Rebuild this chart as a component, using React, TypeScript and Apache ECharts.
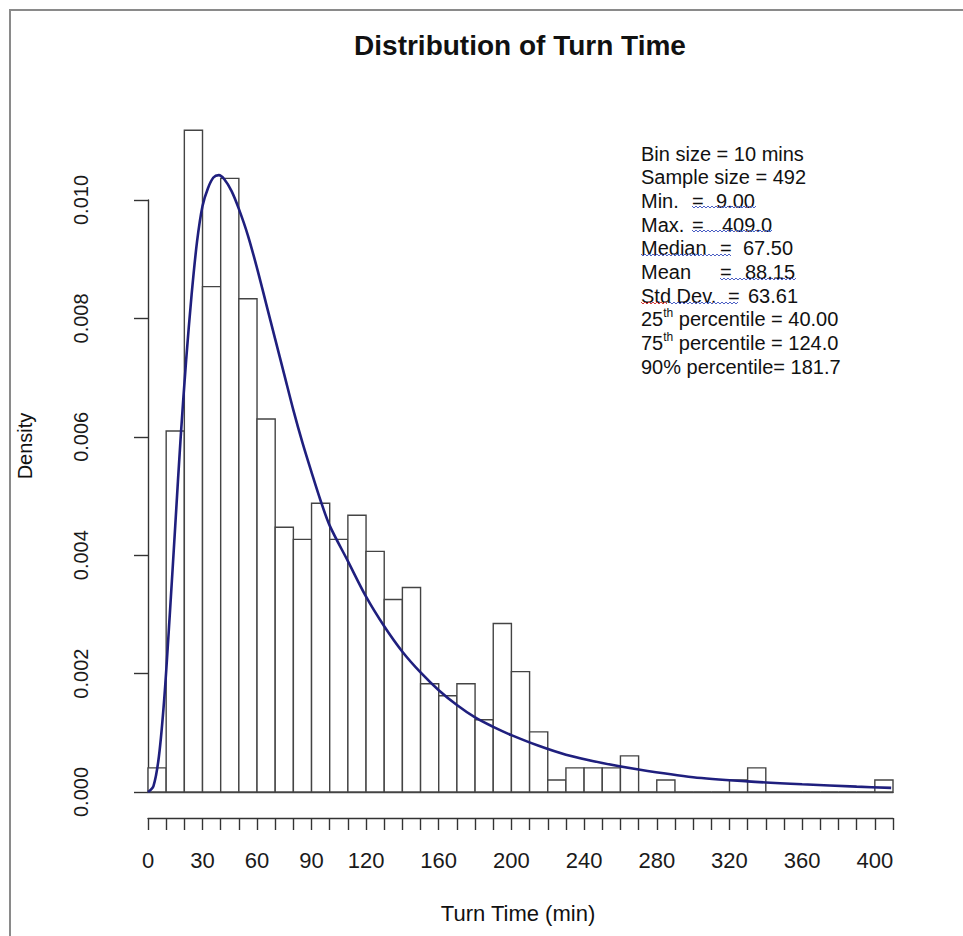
import { useEffect, useRef } from "react";
import * as echarts from "echarts";

// ---- data ----
const titleText = "Distribution of Turn Time";
const xAxisTitle = "Turn Time (min)";
const yAxisTitle = "Density";

const binStart = [
  0, 10, 20, 30, 40, 50, 60, 70, 80, 90, 100, 110, 120, 130, 140, 150, 160, 170, 180, 190,
  200, 210, 220, 230, 240, 250, 260, 270, 280, 290, 300, 310, 320, 330, 340, 350, 360, 370,
  380, 390, 400,
];
const binWidth = 10;
const binDensity = [
  0.000407, 0.006098, 0.011179, 0.008537, 0.010366, 0.008333, 0.006301, 0.004472, 0.004268,
  0.004878, 0.004268, 0.004675, 0.004065, 0.003252, 0.003455, 0.001829, 0.001626, 0.001829,
  0.00122, 0.002846, 0.002033, 0.001016, 0.000203, 0.000407, 0.000407, 0.000407, 0.00061, 0,
  0.000203, 0, 0, 0, 0.000203, 0.000407, 0, 0, 0, 0, 0, 0, 0.000203,
];

const curveX = [
  0, 3, 6, 9, 12, 15, 18, 21, 24, 27, 30, 33, 36, 39, 42, 46, 50, 55, 60, 65, 70, 75, 80, 85, 90,
  95, 100, 110, 120, 130, 140, 150, 160, 170, 180, 190, 200, 215, 230, 250, 270, 300, 330, 360,
  390, 409,
];
const curveY = [
  0, 0.0001, 0.0006, 0.0016, 0.003, 0.0045, 0.006, 0.0073, 0.0084, 0.0093, 0.0099, 0.0102,
  0.01038, 0.01042, 0.01035, 0.01015, 0.00985, 0.0094, 0.00885, 0.00825, 0.00765, 0.00705,
  0.00645, 0.0059, 0.0054, 0.00492, 0.0045, 0.0039, 0.0033, 0.0028, 0.00237, 0.00202, 0.00172,
  0.00147, 0.00126, 0.0011, 0.00096, 0.00078, 0.00063, 0.00049, 0.00038, 0.00025, 0.00018,
  0.00013, 0.00009, 0.00007,
];

const xLabelValues = [0, 30, 60, 90, 120, 160, 200, 240, 280, 320, 360, 400];

// annotation lines
const statPlain = ["Bin size = 10 mins", "Sample size = 492"];
const statLabels = ["Min.", "Max.", "Median", "Mean", "Std Dev."];
const statValues = ["9.00", "409.0", "67.50", "88.15", "63.61"];
const pctNumbers = ["25", "75"];
const pctSup = ["th", "th"];
const pctRest = [" percentile = 40.00", " percentile = 124.0"];
const lastLine = "90% percentile= 181.7";

const FONT = "'Liberation Sans', Arial, Helvetica, sans-serif";

function zigzag(x0: number, x1: number, y: number) {
  const pts: number[][] = [];
  let up = true;
  for (let x = x0; x <= x1; x += 2) {
    pts.push([x, up ? y - 1 : y + 1]);
    up = !up;
  }
  return pts;
}

export default function App() {
  const ref = useRef<HTMLDivElement>(null);

  useEffect(() => {
    if (!ref.current) return;
    const chart = echarts.init(ref.current, undefined, { renderer: "svg" });

    const barData = binStart.map((s, i) => [s, s + binWidth, binDensity[i]]);
    const lineData = curveX.map((x, i) => [x, curveY[i]]);

    const lineY0 = 153.5;
    const lineStep = 23.7;
    const textStyleBase = {
      fontSize: 20,
      fontFamily: FONT,
      fill: "#111",
      align: "left",
      verticalAlign: "middle",
      textAlign: "left",
      textVerticalAlign: "middle",
    };

    const graphics: any[] = [];
    graphics.push({
      type: "line",
      shape: { x1: 9, y1: 10, x2: 963, y2: 10 },
      style: { stroke: "#8a8a8a", lineWidth: 2 },
    });
    graphics.push({
      type: "line",
      shape: { x1: 10, y1: 10, x2: 10, y2: 936 },
      style: { stroke: "#8a8a8a", lineWidth: 2 },
    });
    graphics.push({
      type: "text",
      x: 520,
      y: 45,
      style: {
        text: titleText,
        fontSize: 28,
        fontWeight: "bold",
        fontFamily: FONT,
        fill: "#111",
        align: "center",
        verticalAlign: "middle",
        textAlign: "center",
        textVerticalAlign: "middle",
      },
    });
    graphics.push({
      type: "text",
      x: 518,
      y: 913,
      style: {
        text: xAxisTitle,
        fontSize: 22,
        fontFamily: FONT,
        fill: "#111",
        align: "center",
        verticalAlign: "middle",
        textAlign: "center",
        textVerticalAlign: "middle",
      },
    });
    graphics.push({
      type: "text",
      x: 25,
      y: 446,
      rotation: Math.PI / 2,
      style: {
        text: yAxisTitle,
        fontSize: 20,
        fontFamily: FONT,
        fill: "#111",
        align: "center",
        verticalAlign: "middle",
        textAlign: "center",
        textVerticalAlign: "middle",
      },
    });

    const ax = 641;
    statPlain.forEach((t, i) => {
      graphics.push({ type: "text", x: ax, y: lineY0 + i * lineStep, style: { ...textStyleBase, text: t } });
    });
    const eqX = [692, 692, 720, 720, 728];
    const valX = [716, 722, 743, 745, 748];
    statLabels.forEach((lab, j) => {
      const y = lineY0 + (j + 2) * lineStep;
      graphics.push({ type: "text", x: ax, y, style: { ...textStyleBase, text: lab } });
      graphics.push({ type: "text", x: eqX[j], y, style: { ...textStyleBase, text: "=" } });
      graphics.push({ type: "text", x: valX[j], y, style: { ...textStyleBase, text: statValues[j] } });
    });
    pctNumbers.forEach((n, k) => {
      const y = lineY0 + (k + 7) * lineStep;
      graphics.push({
        type: "text",
        x: ax,
        y,
        style: {
          ...textStyleBase,
          text: `{n|${n}}{s|${pctSup[k]}}{n|${pctRest[k]}}`,
          rich: {
            n: { fontSize: 20, fontFamily: FONT, fill: "#111", lineHeight: 24 },
            s: { fontSize: 12, fontFamily: FONT, fill: "#111", lineHeight: 13, verticalAlign: "top" },
          },
        },
      });
    });
    graphics.push({ type: "text", x: ax, y: lineY0 + 9 * lineStep, style: { ...textStyleBase, text: lastLine } });

    const squig: [number, number, number, string][] = [
      [692, 757, 207, "#4b5fc4"],
      [692, 772, 231, "#4b5fc4"],
      [641, 732, 255, "#4b5fc4"],
      [720, 797, 279, "#4b5fc4"],
      [641, 667, 303, "#d63b3b"],
      [670, 738, 303, "#4b5fc4"],
    ];
    squig.forEach(([a, b, y, c]) => {
      graphics.push({
        type: "polyline",
        shape: { points: zigzag(a, b, y) },
        style: { stroke: c, lineWidth: 1, fill: null },
      });
    });

    chart.setOption({
      animation: false,
      backgroundColor: "#ffffff",
      grid: { left: 148, right: 70, top: 200, bottom: 144, containLabel: false },
      xAxis: [
        {
          type: "value",
          min: 0,
          max: 410,
          interval: 10,
          position: "bottom",
          offset: 26,
          splitLine: { show: false },
          axisLine: { show: true, onZero: false, lineStyle: { color: "#333", width: 1.4 } },
          axisTick: { show: true, inside: false, length: 12, lineStyle: { color: "#333", width: 1.4 } },
          axisLabel: {
            show: true,
            margin: 31,
            fontSize: 22,
            fontFamily: FONT,
            color: "#1a1a1a",
            formatter: (v: number) => (xLabelValues.includes(Math.round(v)) ? String(Math.round(v)) : ""),
          },
        },
        {
          type: "value",
          min: 0,
          max: 410,
          position: "bottom",
          offset: 0,
          splitLine: { show: false },
          axisLine: { show: true, onZero: false, lineStyle: { color: "#444", width: 1.4 } },
          axisTick: { show: false },
          axisLabel: { show: false },
        },
      ],
      yAxis: {
        type: "value",
        min: 0,
        max: 0.01,
        interval: 0.002,
        offset: 30,
        splitLine: { show: false },
        axisLine: { show: true, lineStyle: { color: "#333", width: 1.4 } },
        axisTick: { show: true, inside: false, length: 14, lineStyle: { color: "#333", width: 1.4 } },
        axisLabel: {
          rotate: 90,
          margin: 27,
          fontSize: 20,
          fontFamily: FONT,
          color: "#1a1a1a",
          formatter: (v: number) => v.toFixed(3),
        },
      },
      series: [
        {
          type: "custom",
          xAxisIndex: 0,
          yAxisIndex: 0,
          clip: false,
          encode: { x: [0, 1], y: 2 },
          data: barData,
          renderItem: (params: any, api: any) => {
            const x0 = api.value(0);
            const x1 = api.value(1);
            const y = api.value(2);
            const p0 = api.coord([x0, y]);
            const p1 = api.coord([x1, 0]);
            return {
              type: "rect",
              shape: { x: p0[0], y: p0[1], width: p1[0] - p0[0], height: p1[1] - p0[1] },
              style: { fill: "#ffffff", stroke: "#444", lineWidth: 1.4 },
            };
          },
        },
        {
          type: "line",
          xAxisIndex: 0,
          yAxisIndex: 0,
          data: lineData,
          smooth: 0.3,
          showSymbol: false,
          symbol: "none",
          clip: false,
          lineStyle: { color: "#1f1f7e", width: 2.6 },
          z: 5,
        },
      ],
      graphic: graphics,
    });

    return () => chart.dispose();
  }, []);

  return (
    <div
      ref={ref}
      style={{ position: "fixed", left: 0, top: 0, width: 963, height: 936, background: "#fff" }}
    />
  );
}
